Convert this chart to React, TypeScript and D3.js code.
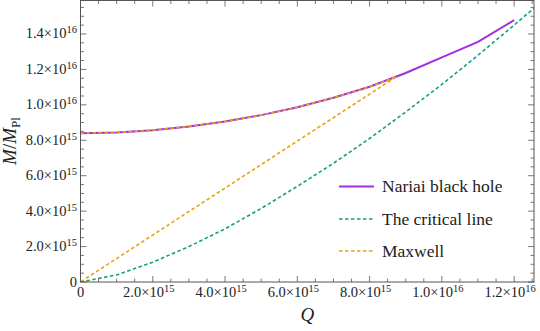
import React from 'react';
import * as d3 from 'd3';

// values
const nariaiQ = [0, 1e15, 2e15, 3e15, 4e15, 5e15, 6e15, 7e15, 8e15, 9e15, 1e16, 1.1e16, 1.2e16];
const nariaiM = [8.40e15, 8.44e15, 8.57e15, 8.78e15, 9.06e15, 9.42e15, 9.86e15, 10.40e15, 11.02e15, 11.80e15, 12.68e15, 13.55e15, 14.78e15];

const criticalQ = [0, 1e15, 2e15, 3e15, 4e15, 5e15, 6e15, 7e15, 8e15, 9e15, 1e16, 1.1e16, 1.2e16, 1.26e16];
const criticalM = [0, 0.40e15, 1.12e15, 2.0e15, 3.0e15, 4.15e15, 5.4e15, 6.7e15, 8.1e15, 9.6e15, 11.15e15, 12.8e15, 14.5e15, 15.55e15];

// Maxwell: along the Nariai branch up to the joining point, then straight back to the origin
const maxwellQ = [0, 1e15, 2e15, 3e15, 4e15, 5e15, 6e15, 7e15, 8e15, 8.75e15, 0];
const maxwellM = [8.40e15, 8.44e15, 8.57e15, 8.78e15, 9.06e15, 9.42e15, 9.86e15, 10.40e15, 11.02e15, 11.60e15, 0];

const xTicks = [0, 2e15, 4e15, 6e15, 8e15, 1e16, 1.2e16];
const yTicks = [0, 2e15, 4e15, 6e15, 8e15, 1e16, 1.2e16, 1.4e16];

const legendNames = ['Nariai black hole', 'The critical line', 'Maxwell'];

const W = 540, H = 331;
const left = 80.5, right = 534, top = 0.5, bottom = 282;
const font = "'Liberation Serif', 'Times New Roman', 'DejaVu Serif', serif";

const purple = '#a12ee0';
const green = '#13a07a';
const orange = '#e8a311';

function TickLabel({ v, x, y, anchor }: { v: number; x: number; y: number; anchor: string }) {
  if (v === 0) {
    return <text x={x} y={y} textAnchor={anchor} fontSize={14.5}>0</text>;
  }
  const e = Math.floor(Math.log10(v) + 1e-9);
  const m = (v / Math.pow(10, e)).toFixed(1);
  return (
    <text x={x} y={y} textAnchor={anchor} fontSize={14.5}>
      {m}×10<tspan fontSize={10.5} dy={-5}>{e}</tspan>
    </text>
  );
}

export default function App() {
  const x = d3.scaleLinear().domain([0, 1.255e16]).range([left, right]);
  const y = d3.scaleLinear().domain([0, 1.589e16]).range([bottom, top]);

  const line = (qs: number[], ms: number[]) =>
    d3.line<number>().x((_, i) => x(qs[i])).y((_, i) => y(ms[i]))(qs) || '';

  const xMinor = d3.range(0, 1.255e16, 5e14);
  const yMinor = d3.range(0, 1.589e16, 5e14);
  const isMajor = (v: number) => Math.abs(v / 2e15 - Math.round(v / 2e15)) < 1e-6;

  const frameColor = '#555';
  const legend = [
    { name: legendNames[0], color: purple, dash: undefined, w: 2 },
    { name: legendNames[1], color: green, dash: '3.5,2.5', w: 1.6 },
    { name: legendNames[2], color: orange, dash: '3.5,2.5', w: 1.6 },
  ];
  const legendY = [186.5, 219, 251];

  return (
    <svg width={W} height={H} style={{ position: 'absolute', left: 0, top: 0, fontFamily: font }}>
      <rect width={W} height={H} fill="white" />
      <defs>
        <clipPath id="plot">
          <rect x={left} y={top} width={right - left} height={bottom - top} />
        </clipPath>
      </defs>

      <g clipPath="url(#plot)" fill="none">
        <path d={line(criticalQ, criticalM)} stroke={green} strokeWidth={1.6} strokeDasharray="3.5,2.5" />
        <path d={line(nariaiQ, nariaiM)} stroke={purple} strokeWidth={2} />
        <path d={line(maxwellQ, maxwellM)} stroke={orange} strokeWidth={1.6} strokeDasharray="3.5,2.5" />
      </g>

      {/* frame */}
      <rect x={left} y={top} width={right - left} height={bottom - top} fill="none" stroke={frameColor} strokeWidth={1} />
      <g stroke={frameColor} strokeWidth={0.8}>
        {xMinor.map((v, i) => {
          const len = isMajor(v) ? 6 : 3.5;
          return (
            <g key={'x' + i}>
              <line x1={x(v)} x2={x(v)} y1={bottom} y2={bottom - len} />
              <line x1={x(v)} x2={x(v)} y1={top} y2={top + len} />
            </g>
          );
        })}
        {yMinor.map((v, i) => {
          const len = isMajor(v) ? 6 : 3.5;
          return (
            <g key={'y' + i}>
              <line x1={left} x2={left + len} y1={y(v)} y2={y(v)} />
              <line x1={right} x2={right - len} y1={y(v)} y2={y(v)} />
            </g>
          );
        })}
      </g>

      <g fill="#222">
        {xTicks.map((v, i) => (
          <TickLabel key={i} v={v} x={x(v) - (v === 0 ? 0 : 4)} y={297} anchor="middle" />
        ))}
        {yTicks.map((v, i) => (
          <TickLabel key={i} v={v} x={77} y={y(v) + 4.5} anchor="end" />
        ))}
      </g>

      <text x={(left + right) / 2} y={321} textAnchor="middle" fontSize={19} fontStyle="italic" fill="#222">Q</text>
      <text transform="translate(16,141) rotate(-90)" textAnchor="middle" fontSize={19} fill="#222">
        <tspan fontStyle="italic">M</tspan>
        <tspan>/</tspan>
        <tspan fontStyle="italic">M</tspan>
        <tspan fontSize={13} dy={4}>Pl</tspan>
      </text>

      {legend.map((d, i) => (
        <g key={d.name}>
          <line x1={339} x2={374} y1={legendY[i]} y2={legendY[i]} stroke={d.color} strokeWidth={d.w} strokeDasharray={d.dash} />
          <text x={382} y={legendY[i] + 5.5} fontSize={17.5} fill="#222">{d.name}</text>
        </g>
      ))}
    </svg>
  );
}
